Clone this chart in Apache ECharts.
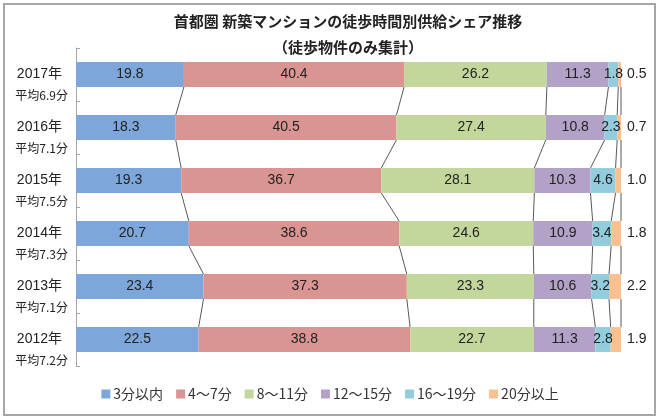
<!DOCTYPE html>
<html>
<head>
<meta charset="utf-8">
<script src="https://cdn.jsdelivr.net/npm/echarts@6/dist/echarts.min.js"></script>
<style>
html,body{margin:0;padding:0;background:#fff;}
#chart{width:660px;height:420px;}
</style>
</head>
<body>
<div id="chart"></div>
<script>
// ---- data ----
const years = ['2017年', '2016年', '2015年', '2014年', '2013年', '2012年'];
const avgMinutes = ['6.9', '7.1', '7.5', '7.3', '7.1', '7.2'];
const seriesNames = ['3分以内', '4～7分', '8～11分', '12～15分', '16～19分', '20分以上'];
const s3min   = [19.8, 18.3, 19.3, 20.7, 23.4, 22.5];
const s4to7   = [40.4, 40.5, 36.7, 38.6, 37.3, 38.8];
const s8to11  = [26.2, 27.4, 28.1, 24.6, 23.3, 22.7];
const s12to15 = [11.3, 10.8, 10.3, 10.9, 10.6, 11.3];
const s16to19 = [1.8, 2.3, 4.6, 3.4, 3.2, 2.8];
const s20plus = [0.5, 0.7, 1.0, 1.8, 2.2, 1.9];

const seriesValues = [s3min, s4to7, s8to11, s12to15, s16to19, s20plus];
const colors = ['#7DA7DB', '#DA9593', '#C3D69B', '#B3A2C7', '#93CDDD', '#FAC090'];

const BAR_RATIO = 0.47;

// connector data: cumulative boundaries between adjacent years
const connectorData = [];
for (let i = 0; i < years.length - 1; i++) {
  let cu = 0, cl = 0;
  for (let s = 0; s < seriesValues.length; s++) {
    cu += seriesValues[s][i];
    cl += seriesValues[s][i + 1];
    connectorData.push([Math.min(cu, 100), Math.min(cl, 100), i, i + 1]);
  }
}

const chart = echarts.init(document.getElementById('chart'));

const barSeries = seriesNames.map((name, s) => ({
  name: name,
  type: 'bar',
  stack: 'total',
  barWidth: (BAR_RATIO * 100) + '%',
  data: seriesValues[s],
  itemStyle: { color: colors[s] },
  label: {
    show: true,
    position: s === seriesNames.length - 1 ? 'right' : 'inside',
    distance: 6,
    formatter: p => p.value.toFixed(1),
    color: '#222',
    fontSize: 14,
    fontFamily: 'Liberation Sans, Arial, sans-serif'
  },
  emphasis: { disabled: true },
  z: 3
}));

const option = {
  animation: false,
  backgroundColor: '#fff',
  title: [
    {
      text: '首都圏 新築マンションの徒歩時間別供給シェア推移',
      left: 343, top: 9, textAlign: 'center',
      textStyle: { fontSize: 15, fontWeight: 'bold', color: '#222', fontFamily: '"Noto Sans CJK JP", sans-serif' }
    },
    {
      text: '（徒歩物件のみ集計）',
      left: 343, top: 35, textAlign: 'center',
      textStyle: { fontSize: 15, fontWeight: 'bold', color: '#222', fontFamily: '"Noto Sans CJK JP", sans-serif' }
    }
  ],
  legend: {
    data: seriesNames,
    left: 'center', top: 382,
    padding: [5, 0, 5, 18],
    itemWidth: 9, itemHeight: 9, itemGap: 13,
    itemStyle: { borderWidth: 0 },
    icon: 'rect',
    textStyle: { fontSize: 14, color: '#333', fontFamily: '"Noto Sans CJK JP", sans-serif', padding: [0, 0, 0, -2] }
  },
  grid: { left: 76, right: 39, top: 48, bottom: 54, containLabel: false },
  xAxis: {
    type: 'value', min: 0, max: 100,
    show: false
  },
  yAxis: {
    type: 'category',
    data: years,
    inverse: true,
    axisLine: { show: true, lineStyle: { color: '#a6a6a6' } },
    axisTick: { show: true, inside: true, length: 4, lineStyle: { color: '#a6a6a6' } },
    axisLabel: {
      margin: 8,
      align: 'right',
      padding: [20, 0, 0, 0],
      formatter: (v, i) => '{y|' + v + '}\n{a|平均' + avgMinutes[i] + '分}',
      rich: {
        y: { fontSize: 14, lineHeight: 22, color: '#222', padding: [0, 6, 0, 0], fontFamily: '"Liberation Sans", "Noto Sans CJK JP", sans-serif' },
        a: { fontSize: 12, lineHeight: 20, color: '#222', fontFamily: '"Noto Sans CJK JP", sans-serif' }
      }
    }
  },
  series: barSeries.concat([{
    type: 'custom',
    name: 'connectors',
    data: connectorData,
    encode: { x: [0, 1], y: [2, 3] },
    silent: true,
    z: 2,
    renderItem: function (params, api) {
      const p1 = api.coord([api.value(0), api.value(2)]);
      const p2 = api.coord([api.value(1), api.value(3)]);
      const band = api.size([0, 1])[1];
      const h = band * BAR_RATIO / 2;
      return {
        type: 'line',
        shape: { x1: p1[0], y1: p1[1] + h, x2: p2[0], y2: p2[1] - h },
        style: { stroke: '#595959', lineWidth: 1 }
      };
    }
  }]),
  graphic: [{
    type: 'rect',
    shape: { x: 4, y: 4, width: 651, height: 411 },
    style: { fill: 'none', stroke: '#a6a6a6', lineWidth: 2 },
    silent: true
  }]
};

chart.setOption(option);
</script>
</body>
</html>
